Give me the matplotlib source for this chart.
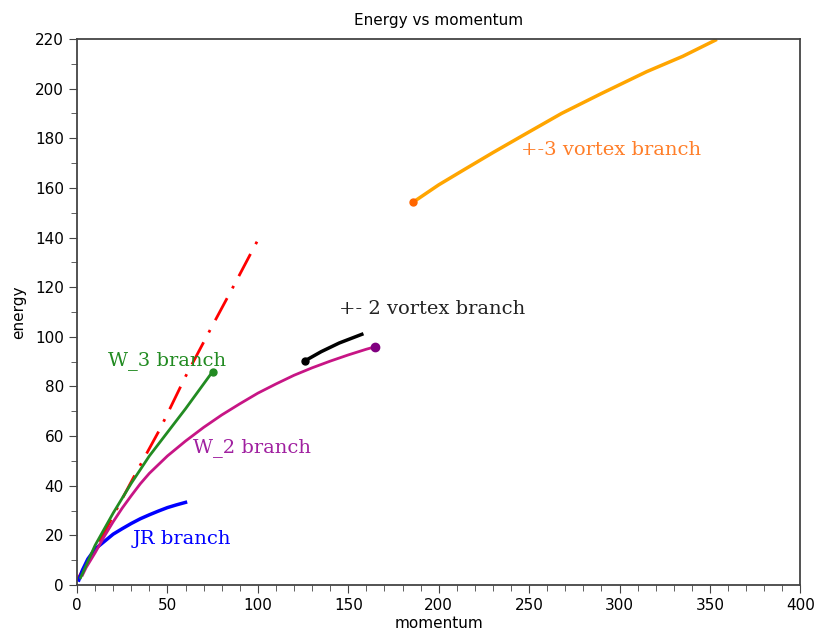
import matplotlib
matplotlib.use('Agg')
import matplotlib.pyplot as plt
from matplotlib.ticker import MultipleLocator

plt.rcParams['font.family'] = ['Liberation Sans Narrow', 'DejaVu Sans']

# branch data
jr_p = [1, 3, 6, 10, 15, 20, 25, 30, 35, 40, 45, 50, 55, 60]
jr_e = [2, 6, 10.5, 14.5, 17.5, 20.5, 22.7, 24.8, 26.7, 28.3, 29.8, 31.2, 32.3, 33.3]

w2_p = [3, 5, 10, 15, 20, 25, 30, 35, 40, 50, 60, 70, 80, 90, 100, 110, 120, 130, 140, 150, 160, 165]
w2_e = [4, 7, 13, 19.5, 25.5, 31, 36, 40.8, 45, 52, 58, 63.5, 68.5, 73, 77.3, 81, 84.5, 87.5, 90.2, 92.7, 95, 96]

w3_p = [2, 10, 20, 30, 40, 50, 60, 70, 75]
w3_e = [3, 16, 29, 41, 52, 61.5, 71, 81, 86]

red_p = [0, 15, 31, 46, 60, 74.5, 87, 100]
red_e = [2, 21, 43, 63, 84, 104, 121, 139]

v2_p = [126, 135, 145, 157.5]
v2_e = [90.3, 94, 97.5, 101]

v3_p = [186, 200, 214, 230, 247, 268, 290, 315, 335, 353]
v3_e = [154.3, 161.2, 167.3, 174.2, 181.3, 190, 198, 206.8, 213, 219.5]

labels = ['W_3 branch', 'W_2 branch', 'JR branch', '+- 2 vortex branch', '+-3 vortex branch']
label_pos = [(17, 90.6), (64, 55.2), (31, 18.5), (145, 111.2), (245.5, 175.3)]
label_colors = ['#228b22', '#a020a0', '#0000ff', '#222222', '#ff7f2a']

fig = plt.figure(figsize=(8.15, 6.38), dpi=100)
ax = fig.add_axes([0.0945, 0.083, 0.8875, 0.856])

ax.plot(red_p, red_e, color='red', lw=2, linestyle=(2, (9, 4, 1, 4)))
ax.plot(jr_p, jr_e, color='blue', lw=2.5)
ax.plot(w2_p, w2_e, color='#c71585', lw=2)
ax.plot(w2_p[-1], w2_e[-1], 'o', color='#800080', ms=6)
ax.plot(w3_p, w3_e, color='#228b22', lw=2)
ax.plot(w3_p[-1], w3_e[-1], 'o', color='#228b22', ms=5)
ax.plot(v2_p, v2_e, color='black', lw=2.5)
ax.plot(v2_p[0], v2_e[0], 'o', color='black', ms=5)
ax.plot(v3_p, v3_e, color='orange', lw=2.5)
ax.plot(v3_p[0], v3_e[0], 'o', color='#ff6600', ms=5)

for text, (px, py), c in zip(labels, label_pos, label_colors):
    ax.text(px, py, text, color=c, fontsize=14, family='DejaVu Serif',
            ha='left', va='center')

ax.set_xlim(0, 400)
ax.set_ylim(0, 220)
ax.xaxis.set_major_locator(MultipleLocator(50))
ax.xaxis.set_minor_locator(MultipleLocator(10))
ax.yaxis.set_major_locator(MultipleLocator(20))
ax.yaxis.set_minor_locator(MultipleLocator(10))
ax.tick_params(which='both', direction='out', top=False, right=False,
               labelsize=11, color='#444444')
ax.tick_params(which='major', length=6)
ax.tick_params(which='minor', length=4)
for s in ax.spines.values():
    s.set_color('#444444')
    s.set_linewidth(1.3)

ax.set_xlabel('momentum', fontsize=11, labelpad=2)
ax.set_ylabel('energy', fontsize=11, labelpad=6)
ax.set_title('Energy vs momentum', fontsize=11, pad=10)

fig.savefig('out.png', dpi=100)
